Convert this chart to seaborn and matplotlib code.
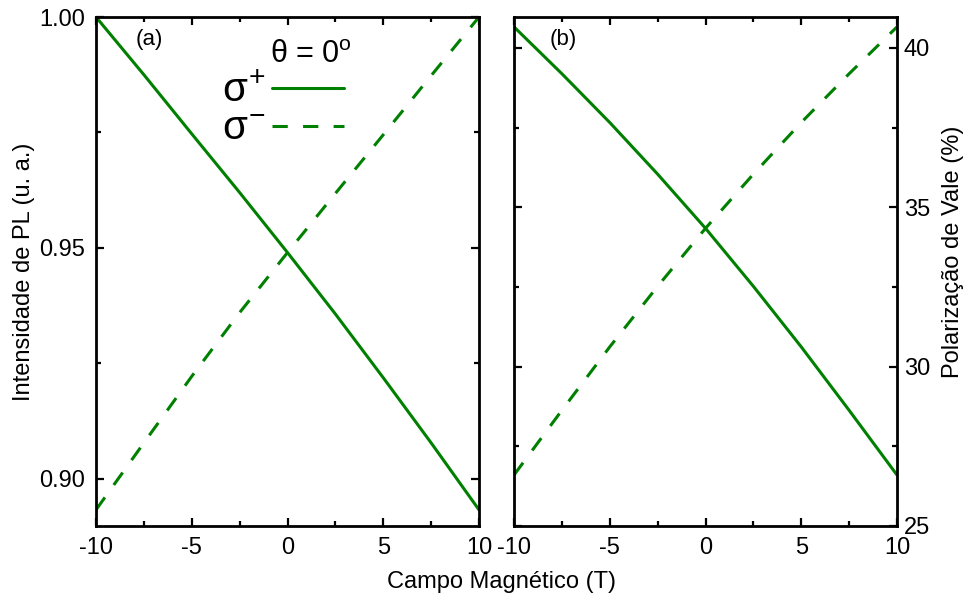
import matplotlib
matplotlib.use("Agg")
import matplotlib.pyplot as plt
from matplotlib.lines import Line2D
from matplotlib.ticker import MultipleLocator
import seaborn as sns
import pandas as pd

# ---- data ----
field_T = [-10, -7.5, -5, -2.5, 0, 2.5, 5, 7.5, 10]
pl_sigma_plus = [1.000, 0.9875, 0.9747, 0.9620, 0.9490, 0.9357, 0.9219, 0.9078, 0.8933]
pl_sigma_minus = [0.8933, 0.9078, 0.9222, 0.9360, 0.9490, 0.9618, 0.9745, 0.9873, 1.000]
pol_sigma_plus = [40.66, 39.19, 37.66, 36.04, 34.34, 32.52, 30.62, 28.63, 26.60]
pol_sigma_minus = [26.60, 28.63, 30.62, 32.52, 34.34, 36.04, 37.66, 39.19, 40.66]
xticks = [-10, -5, 0, 5, 10]
yticks_a = [0.90, 0.95, 1.00]
yticks_b = [25, 30, 35, 40]

GREEN = "#008000"
FONT = "Liberation Sans"

sns.set_theme(style="ticks")
plt.rcParams["font.family"] = [FONT, "DejaVu Sans"]
plt.rcParams["mathtext.fontset"] = "custom"
plt.rcParams["mathtext.rm"] = FONT
plt.rcParams["mathtext.it"] = FONT
plt.rcParams["mathtext.bf"] = FONT
plt.rcParams["text.color"] = "black"
plt.rcParams["axes.labelcolor"] = "black"
plt.rcParams["xtick.color"] = "black"
plt.rcParams["ytick.color"] = "black"

fig = plt.figure(figsize=(9.69, 5.99), dpi=100)
W, H = 969, 599
def rect(l, r, t, b):
    return [l / W, (H - b) / H, (r - l) / W, (b - t) / H]

ax_a = fig.add_axes(rect(96, 479, 17, 526))
ax_b = fig.add_axes(rect(514, 897, 17, 526))

df_a = pd.DataFrame({"B": field_T, "plus": pl_sigma_plus, "minus": pl_sigma_minus})
df_b = pd.DataFrame({"B": field_T, "plus": pol_sigma_plus, "minus": pol_sigma_minus})

LW = 2.2
DASH = (0, (5.0, 5.0))
for ax, df in ((ax_a, df_a), (ax_b, df_b)):
    sns.lineplot(data=df, x="B", y="plus", ax=ax, color=GREEN, lw=LW, legend=False)
    sns.lineplot(data=df, x="B", y="minus", ax=ax, color=GREEN, lw=LW,
                 linestyle=DASH, legend=False)
    ax.set_xlim(-10, 10)
    ax.set_xticks(xticks)
    ax.set_xticklabels([str(t) for t in xticks])
    ax.xaxis.set_minor_locator(MultipleLocator(2.5))
    ax.set_xlabel("")
    ax.set_ylabel("")
    for s in ax.spines.values():
        s.set_visible(True)
        s.set_linewidth(2.0)
        s.set_color("black")
    ax.tick_params(which="both", direction="in", top=True, bottom=True,
                   left=True, right=True, width=1.6, color="black")
    ax.tick_params(which="major", length=6)
    ax.tick_params(which="minor", length=3.5)
    ax.tick_params(axis="x", labelsize=17, pad=8, labelcolor="black")
    ax.tick_params(axis="y", labelsize=17, labelcolor="black")

# panel (a)
ax_a.set_ylim(0.8898, 1.0)
ax_a.set_yticks(yticks_a)
ax_a.set_yticklabels([f"{v:.2f}" for v in yticks_a])
ax_a.yaxis.set_minor_locator(MultipleLocator(0.025))
ax_a.tick_params(axis="y", labelleft=True, labelright=False, pad=8)

# panel (b)
ax_b.set_ylim(25, 40.97)
ax_b.set_yticks(yticks_b)
ax_b.set_yticklabels([str(v) for v in yticks_b])
ax_b.yaxis.set_minor_locator(MultipleLocator(2.5))
ax_b.tick_params(axis="y", labelleft=False, labelright=True, pad=5)

ax_a.text(0.138, 0.955, "(a)", transform=ax_a.transAxes, fontsize=16,
          ha="center", va="center")
ax_b.text(0.128, 0.955, "(b)", transform=ax_b.transAxes, fontsize=16,
          ha="center", va="center")

# legend
ax_a.text((311 - 96) / 383, (526 - 55) / 509, r"θ = 0$^{\mathrm{o}}$",
          transform=ax_a.transAxes, fontsize=22, ha="center", va="center")
handles = [Line2D([], [], color=GREEN, lw=LW),
           Line2D([], [], color=GREEN, lw=LW, linestyle=DASH)]
labels = [r"$\sigma^{+}$", r"$\sigma^{-}$"]
ax_a.legend(handles, labels, loc="upper right",
            bbox_to_anchor=((344 - 96) / 383, (526 - 72) / 509),
            frameon=False, markerfirst=False, fontsize=29,
            handlelength=1.8, handletextpad=0.15, labelspacing=0.0,
            borderpad=0, borderaxespad=0)

# axis labels
fig.text(501.5 / W, (H - 588) / H, "Campo Magnético (T)", fontsize=17,
         ha="center", va="baseline")
fig.text(24 / W, (H - 271.5) / H, "Intensidade de PL (u. a.)", fontsize=17,
         rotation=90, ha="center", va="center")
fig.text(953 / W, (H - 252) / H, "Polarização de Vale (%)", fontsize=17,
         rotation=90, ha="center", va="center")

fig.savefig("out.png", dpi=100)
